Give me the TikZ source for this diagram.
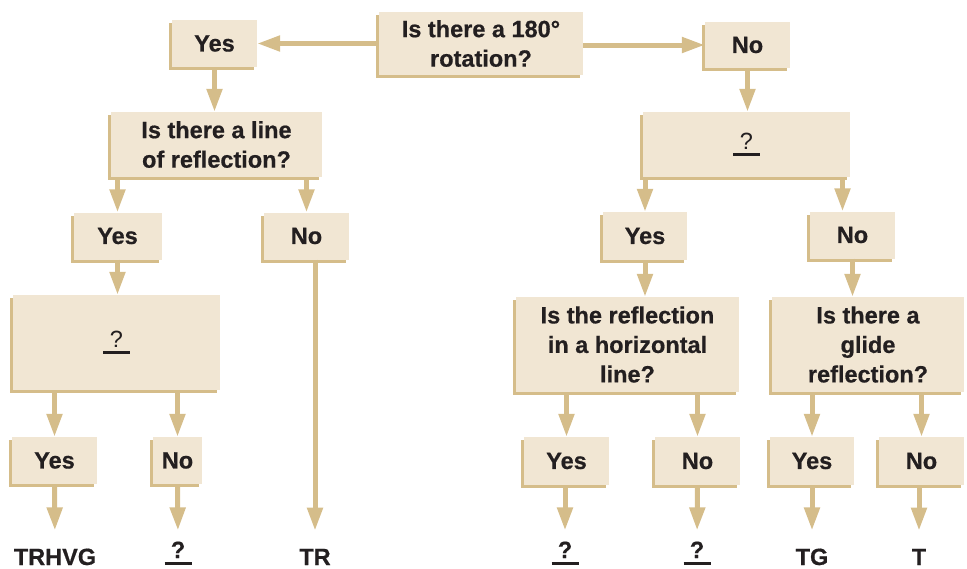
\documentclass[tikz,border=0pt]{standalone}
\usepackage{fontspec}
\setmainfont[BoldFeatures={FakeBold=0.6}]{Liberation Sans}
\usetikzlibrary{arrows.meta,shadows}
\definecolor{cream}{HTML}{F1E6D3}
\definecolor{tan}{HTML}{D5BD8A}
\definecolor{ink}{HTML}{231F20}
\newcommand{\blankq}{\rlap{\rule[-7pt]{27pt}{3pt}}\makebox[27pt]{?}}
\begin{document}
\begin{tikzpicture}[x=1pt,y=-1pt,
	every node/.style={text=ink,font=\bfseries\fontsize{23.5}{29.5}\selectfont},
	box/.style={fill=cream,inner sep=0pt,align=center,general shadow={fill=tan,shadow xshift=-3pt,shadow yshift=-3pt}},
	outcome/.style={inner sep=0pt,anchor=base},
	arr/.style={draw=tan,line width=5pt,-{Triangle[width=15pt,length=23pt]}}]
	\useasboundingbox (0,0) rectangle (967,568);
	\node[box,minimum width=204pt,minimum height=63pt] (rot) at (481,43.5) {Is there a 180°\\rotation?};
	\node[box,minimum width=85pt,minimum height=47pt] (yes1) at (214.5,43.5) {Yes};
	\node[box,minimum width=85pt,minimum height=46pt] (no1) at (747.5,45) {No};
	\node[box,minimum width=211pt,minimum height=65pt] (line) at (216.5,144.5) {Is there a line\\of reflection?};
	\node[box,minimum width=207pt,minimum height=65pt] (q1) at (746.5,144.5) {\mdseries\blankq};
	\node[box,minimum width=88pt,minimum height=47pt] (yes2) at (117.5,236) {Yes};
	\node[box,minimum width=85pt,minimum height=47pt] (no2) at (306.5,236) {No};
	\node[box,minimum width=84pt,minimum height=48pt] (yes3) at (645,236) {Yes};
	\node[box,minimum width=85pt,minimum height=47pt] (no3) at (852.5,235) {No};
	\node[box,minimum width=207pt,minimum height=95pt] (q2) at (116.5,342.5) {\mdseries\blankq};
	\node[box,minimum width=223pt,minimum height=95pt] (horiz) at (627.5,344.5) {Is the reflection\\in a horizontal\\line?};
	\node[box,minimum width=192pt,minimum height=95pt] (glide) at (868,344.5) {Is there a\\glide\\reflection?};
	\node[box,minimum width=85pt,minimum height=47pt] (yes4) at (54.5,460.5) {Yes};
	\node[box,minimum width=49pt,minimum height=47pt] (no4) at (177.5,460.5) {No};
	\node[box,minimum width=85pt,minimum height=48pt] (yes5) at (566.5,461) {Yes};
	\node[box,minimum width=85pt,minimum height=48pt] (no5) at (697.5,461) {No};
	\node[box,minimum width=84pt,minimum height=48pt] (yes6) at (812,461) {Yes};
	\node[box,minimum width=85pt,minimum height=48pt] (no6) at (921.5,461) {No};
	\node[outcome] (trhvg) at (55,565) {TRHVG};
	\node[outcome] (qa) at (178,558) {\blankq};
	\node[outcome] (tr) at (315,565) {TR};
	\node[outcome] (qb) at (565,558) {\blankq};
	\node[outcome] (qc) at (697,558) {\blankq};
	\node[outcome] (tg) at (812,565) {TG};
	\node[outcome] (t) at (919,565) {T};
	\draw[arr] (rot.west |- yes1) -- (yes1.east);
	\draw[arr] (rot.east |- no1) -- (no1.west);
	\draw[arr] (yes1.south) -- (yes1.south |- line.north);
	\draw[arr] (no1.south) -- (no1.south |- q1.north);
	\draw[arr] (line.south -| yes2) -- (yes2.north);
	\draw[arr] (line.south -| no2) -- (no2.north);
	\draw[arr] (q1.south -| yes3) -- (yes3.north);
	\draw[arr] ([xshift=-10pt]q1.south -| no3) -- ([xshift=-10pt]no3.north);
	\draw[arr] (yes2.south) -- (yes2.south |- q2.north);
	\draw[arr] (yes3.south) -- (yes3.south |- horiz.north);
	\draw[arr] (no3.south) -- (no3.south |- glide.north);
	\draw[arr] (q2.south -| yes4) -- (yes4.north);
	\draw[arr] (q2.south -| no4) -- (no4.north);
	\draw[arr] (horiz.south -| yes5) -- (yes5.north);
	\draw[arr] (horiz.south -| no5) -- (no5.north);
	\draw[arr] (glide.south -| yes6) -- (yes6.north);
	\draw[arr] (glide.south -| no6) -- (no6.north);
	\draw[arr,shorten >=18pt] (yes4.south) -- (trhvg.north);
	\draw[arr,shorten >=11pt] (no4.south) -- (qa.north);
	\draw[arr,shorten >=18pt] (no2.south -| tr) -- (tr.north);
	\draw[arr,shorten >=11pt] (yes5.south -| qb) -- (qb.north);
	\draw[arr,shorten >=11pt] (no5.south) -- (qc.north);
	\draw[arr,shorten >=18pt] (yes6.south) -- (tg.north);
	\draw[arr,shorten >=18pt] (no6.south -| t) -- (t.north);
\end{tikzpicture}
\end{document}
